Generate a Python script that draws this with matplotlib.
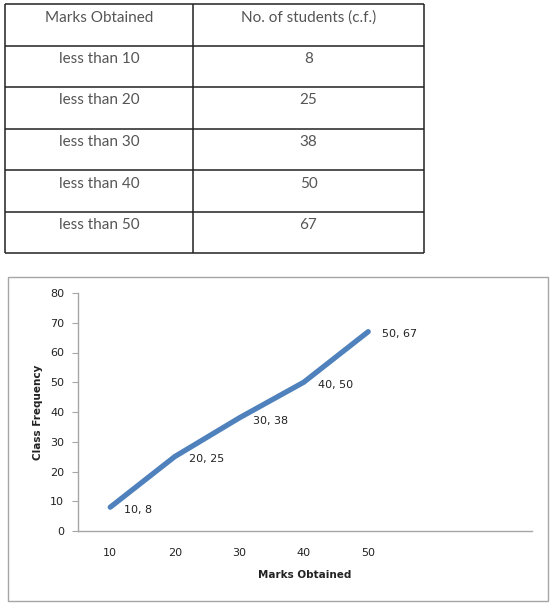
import matplotlib
matplotlib.use("Agg")
import matplotlib.pyplot as plt

# ---- data ----
table_header = ["Marks Obtained", "No. of students (c.f.)"]
table_marks = ["less than 10", "less than 20", "less than 30", "less than 40", "less than 50"]
table_cf = [8, 25, 38, 50, 67]

x_marks = [10, 20, 30, 40, 50]
y_cf = [8, 25, 38, 50, 67]
y_ticks = [0, 10, 20, 30, 40, 50, 60, 70, 80]

W, H = 556, 606
fig = plt.figure(figsize=(W / 100, H / 100), dpi=100)

# ---- table (pixel coordinate overlay) ----
tax = fig.add_axes([0, 0, 1, 1])
tax.set_xlim(0, W)
tax.set_ylim(H, 0)
tax.axis("off")

tl, tr, tdiv = 5, 424, 193
row_h = 41.5
ttop = 4
n_rows = len(table_marks) + 1
for i in range(n_rows + 1):
    y = ttop + i * row_h
    tax.plot([tl, tr], [y, y], color="#222222", lw=1.1, solid_capstyle="butt")
for x in (tl, tdiv, tr):
    tax.plot([x, x], [ttop, ttop + n_rows * row_h], color="#222222", lw=1.1,
             solid_capstyle="butt")

tfont = dict(family="Lato", fontsize=11, color="#555555", ha="center", va="center")
rows = [table_header] + [[m, str(c)] for m, c in zip(table_marks, table_cf)]
for i, (a, b) in enumerate(rows):
    yc = ttop + i * row_h + 13.5
    tax.text((tl + tdiv) / 2, yc, a, **tfont)
    tax.text((tdiv + tr) / 2, yc, b, **tfont)

# chart frame
tax.add_patch(plt.Rectangle((8, 277), 540, 324, fill=False, ec="#a6a6a6", lw=1.0))

# ---- chart ----
ax_l, ax_r = 78, 532
ax_t, ax_b = 293, 531
ax = fig.add_axes([ax_l / W, 1 - ax_b / H, (ax_r - ax_l) / W, (ax_b - ax_t) / H])
ax.patch.set_alpha(0)
ax.plot(x_marks, y_cf, color="#4f81bd", lw=3.8, solid_capstyle="round",
        solid_joinstyle="round")
ax.set_xlim(5, 75.4)
ax.set_ylim(0, 80)
ax.set_xticks(x_marks)
ax.set_yticks(y_ticks)
for s in ("top", "right"):
    ax.spines[s].set_visible(False)
for s in ("left", "bottom"):
    ax.spines[s].set_color("#a6a6a6")
    ax.spines[s].set_linewidth(1.0)
ax.tick_params(axis="y", direction="out", length=4, color="#a6a6a6", labelsize=8,
               labelcolor="#222222", pad=6)
ax.tick_params(axis="x", length=0, labelsize=8, labelcolor="#222222", pad=12)
for lab in ax.get_xticklabels() + ax.get_yticklabels():
    lab.set_family("DejaVu Sans")

for x, y in zip(x_marks, y_cf):
    ax.annotate(f"{x}, {y}", (x, y), xytext=(10, -2), textcoords="offset points",
                fontsize=8, color="#222222", ha="left", va="center",
                family="DejaVu Sans")

ax.set_xlabel("Marks Obtained", fontsize=7.5, fontweight="bold", color="#222222",
              labelpad=9)
ax.set_ylabel("Class Frequency", fontsize=7.5, fontweight="bold", color="#222222",
              labelpad=5)

fig.savefig("out.png", dpi=100)
